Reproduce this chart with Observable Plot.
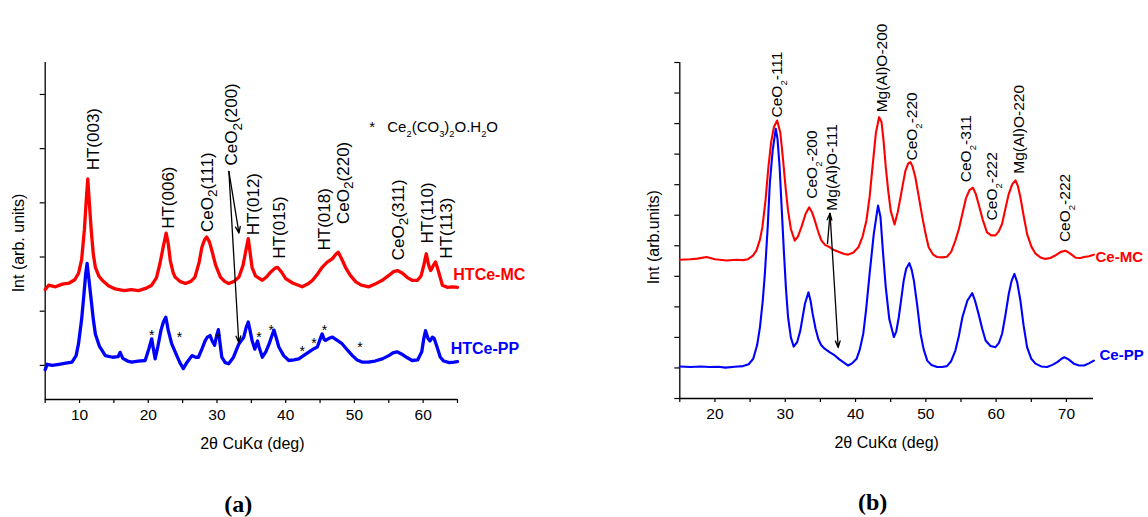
<!DOCTYPE html>
<html><head><meta charset="utf-8">
<script src="https://cdn.jsdelivr.net/npm/d3@7"></script>
<script src="https://cdn.jsdelivr.net/npm/@observablehq/plot@0.6"></script>
<style>
body{margin:0;background:#fff;}
#wrap{display:flex;width:1148px;height:517px;overflow:hidden;}
#wrap svg{overflow:visible;display:block;}
</style></head><body><div id="wrap"></div>
<script>
// ---------- Panel (a) data: [2θ (deg), intensity (arb., stacked)] ----------
const aHTCeMC = [[5.0,1.40],[5.5,1.48],[6.5,1.45],[7.5,1.50],[8.5,1.52],[9.3,1.58],[9.85,1.70],[10.3,1.95],[10.7,2.50],[11.0,3.10],[11.2,3.44],[11.4,3.05],[11.7,2.49],[12.0,2.05],[12.3,1.81],[12.8,1.65],[13.3,1.57],[14.2,1.47],[15.2,1.41],[16.5,1.38],[17.5,1.40],[18.6,1.38],[19.6,1.42],[20.5,1.48],[21.2,1.62],[21.7,1.88],[22.2,2.20],[22.6,2.44],[22.9,2.25],[23.2,1.94],[23.6,1.72],[23.9,1.63],[24.6,1.55],[25.4,1.51],[26.2,1.55],[26.8,1.63],[27.4,1.90],[27.8,2.18],[28.2,2.32],[28.5,2.37],[28.9,2.28],[29.25,2.12],[29.8,1.85],[30.5,1.63],[31.1,1.55],[31.7,1.51],[32.5,1.55],[33.2,1.63],[33.8,1.85],[34.2,2.12],[34.55,2.34],[34.8,2.10],[35.1,1.81],[35.6,1.65],[36.6,1.57],[37.2,1.63],[37.8,1.72],[38.4,1.79],[38.8,1.81],[39.4,1.72],[40.0,1.60],[41.0,1.52],[42.4,1.45],[43.2,1.50],[43.9,1.57],[44.6,1.68],[45.3,1.81],[46.0,1.90],[46.8,1.97],[47.3,2.05],[47.65,2.09],[48.2,1.95],[48.7,1.81],[49.4,1.66],[50.2,1.54],[51.0,1.48],[52.1,1.45],[53.0,1.50],[54.05,1.57],[55.0,1.66],[55.7,1.73],[56.25,1.75],[57.0,1.70],[57.7,1.62],[58.4,1.57],[59.15,1.57],[59.7,1.65],[60.1,1.85],[60.45,2.06],[60.8,1.85],[61.1,1.75],[61.5,1.85],[61.8,1.91],[62.2,1.75],[62.8,1.48],[63.5,1.44],[64.3,1.45],[65.0,1.44]];
const aHTCePP = [[5.0,-0.08],[5.3,0.02],[6.0,0.0],[7.0,0.02],[8.0,0.04],[8.9,0.06],[9.5,0.18],[9.85,0.40],[10.3,0.85],[10.6,1.26],[10.9,1.70],[11.1,1.88],[11.35,1.60],[11.7,1.20],[12.0,0.85],[12.3,0.58],[12.9,0.35],[13.75,0.18],[14.8,0.15],[15.6,0.16],[15.9,0.24],[16.3,0.13],[17.0,0.08],[17.6,0.06],[18.5,0.08],[19.55,0.09],[20.1,0.31],[20.5,0.49],[20.75,0.30],[21.0,0.12],[21.4,0.35],[21.85,0.65],[22.2,0.80],[22.55,0.89],[22.9,0.65],[23.4,0.40],[24.15,0.18],[24.6,0.05],[25.1,-0.06],[25.6,0.05],[26.35,0.18],[26.9,0.15],[27.3,0.15],[27.8,0.30],[28.3,0.46],[28.6,0.52],[29.0,0.55],[29.3,0.45],[29.65,0.37],[29.95,0.55],[30.2,0.66],[30.45,0.40],[30.7,0.15],[31.2,0.05],[31.7,0.03],[32.4,0.15],[33.2,0.40],[33.9,0.52],[34.25,0.70],[34.55,0.80],[34.8,0.65],[35.1,0.46],[35.5,0.30],[35.9,0.45],[36.1,0.35],[36.6,0.15],[37.1,0.25],[37.6,0.40],[38.0,0.55],[38.3,0.65],[38.6,0.52],[39.0,0.34],[39.7,0.18],[40.45,0.09],[41.2,0.10],[41.9,0.12],[42.6,0.18],[43.4,0.25],[44.0,0.30],[44.6,0.34],[45.0,0.48],[45.3,0.58],[45.6,0.48],[45.8,0.46],[46.3,0.50],[46.8,0.52],[47.5,0.46],[48.2,0.40],[49.0,0.28],[49.7,0.18],[50.4,0.10],[51.1,0.06],[52.0,0.06],[53.0,0.08],[54.05,0.12],[55.0,0.18],[55.6,0.23],[56.2,0.25],[57.0,0.20],[57.7,0.14],[58.4,0.09],[59.2,0.10],[59.8,0.25],[60.1,0.50],[60.35,0.64],[60.7,0.50],[61.0,0.45],[61.35,0.52],[61.6,0.50],[62.0,0.35],[62.5,0.15],[63.0,0.08],[63.8,0.05],[64.5,0.06],[65.0,0.07]];
const aPeakNames = ["HT(003)","HT(006)","CeO_2(111)","CeO_2(200)","HT(012)","HT(015)","HT(018)","CeO_2(220)","CeO_2(311)","HT(110)","HT(113)"];
const aPeakX = [11.99,23.0,28.58,32.12,35.28,39.15,45.7,48.38,56.38,60.6,63.41];
const aPeakY = [3.60,2.52,2.46,3.69,2.40,1.97,2.12,2.61,1.94,2.25,1.97];
const aStarX = [20.5,24.55,30.2,36.1,37.9,42.4,44.1,45.65,50.8];
const aStarY = [0.63,0.58,0.56,0.58,0.71,0.33,0.48,0.72,0.40];
const aArrows = [{x1:31.73,y1:3.58,x2:33.2,y2:2.44},{x1:31.73,y1:3.58,x2:33.17,y2:0.42}];
const aSeriesNames = ["HTCe-MC","HTCe-PP"];
const aSeriesLabelX = [64.39,64.0];
const aSeriesLabelY = [1.67,0.30];
const aXTicks = [5,10,15,20,25,30,35,40,45,50,55,60,65];
const aYTicks = [0,1,2,3,4,5];

// ---------- Panel (b) data ----------
const bCeMC = [[15.0,4.54],[16.5,4.56],[17.5,4.58],[18.8,4.63],[20.0,4.56],[21.65,4.52],[23.0,4.54],[24.0,4.53],[24.7,4.56],[25.4,4.68],[25.9,4.84],[26.4,5.2],[26.75,5.61],[27.2,6.5],[27.6,7.57],[28.0,8.4],[28.4,8.9],[28.85,9.10],[29.3,8.7],[29.7,7.79],[30.05,6.9],[30.4,6.15],[30.8,5.55],[31.35,5.17],[31.8,5.30],[32.3,5.61],[32.9,6.05],[33.4,6.26],[33.8,6.10],[34.2,5.83],[34.7,5.45],[35.15,5.17],[35.7,5.02],[36.35,4.95],[37.0,4.85],[37.75,4.79],[38.4,4.73],[38.95,4.71],[39.7,4.78],[40.4,4.95],[41.0,5.30],[41.55,5.83],[42.0,6.6],[42.5,7.79],[42.9,8.7],[43.35,9.21],[43.7,9.05],[44.0,8.4],[44.3,7.57],[44.65,6.8],[45.0,6.15],[45.55,5.70],[46.0,6.1],[46.4,6.59],[46.8,7.1],[47.1,7.46],[47.5,7.70],[47.8,7.74],[48.1,7.60],[48.5,7.25],[49.0,6.6],[49.5,5.94],[50.0,5.35],[50.4,4.95],[51.0,4.72],[51.6,4.63],[52.3,4.62],[53.0,4.64],[53.6,4.80],[54.2,5.17],[54.7,5.55],[55.2,6.05],[55.7,6.55],[56.2,6.82],[56.7,6.90],[57.1,6.70],[57.5,6.37],[58.1,5.85],[58.7,5.44],[59.3,5.34],[59.9,5.34],[60.4,5.48],[60.85,5.72],[61.3,6.2],[61.8,6.70],[62.3,7.02],[62.75,7.14],[63.1,6.95],[63.45,6.59],[63.9,6.0],[64.4,5.39],[65.0,4.98],[65.6,4.74],[66.3,4.62],[67.0,4.57],[67.7,4.60],[68.4,4.68],[69.2,4.80],[69.85,4.84],[70.5,4.75],[71.3,4.61],[72.0,4.60],[72.5,4.63],[73.2,4.66],[73.9,4.71]];
const bCePP = [[15.0,1.05],[16.5,1.03],[18.0,1.05],[19.25,1.03],[20.5,1.04],[21.5,1.01],[22.8,1.04],[24.0,1.06],[24.8,1.12],[25.45,1.30],[26.0,1.75],[26.4,2.33],[26.8,3.2],[27.1,4.08],[27.5,5.6],[27.8,7.03],[28.2,8.1],[28.65,8.83],[28.9,8.5],[29.2,7.57],[29.5,6.2],[29.8,4.84],[30.1,3.6],[30.4,2.66],[30.8,2.0],[31.2,1.70],[31.7,1.85],[32.15,2.23],[32.5,2.70],[32.8,3.10],[33.3,3.48],[33.6,3.20],[33.9,2.77],[34.3,2.30],[34.7,1.95],[35.1,1.75],[35.6,1.63],[36.3,1.52],[37.05,1.41],[37.7,1.28],[38.25,1.19],[38.95,1.08],[39.5,1.15],[40.15,1.30],[40.6,1.60],[41.1,2.12],[41.5,2.9],[42.0,4.08],[42.6,5.4],[43.2,6.32],[43.55,5.94],[43.9,4.8],[44.3,3.64],[44.8,2.6],[45.45,2.01],[45.8,2.20],[46.15,2.66],[46.5,3.25],[46.85,3.86],[47.2,4.25],[47.65,4.43],[48.0,4.20],[48.3,3.86],[48.8,3.0],[49.25,2.12],[49.7,1.60],[50.2,1.24],[50.8,1.10],[51.6,1.03],[52.3,1.03],[53.0,1.06],[53.6,1.22],[54.2,1.57],[54.7,2.05],[55.2,2.66],[55.9,3.20],[56.6,3.45],[57.0,3.20],[57.5,2.77],[58.0,2.30],[58.5,1.90],[59.2,1.72],[59.9,1.68],[60.4,1.82],[60.85,2.12],[61.3,2.70],[61.8,3.43],[62.2,3.85],[62.6,4.08],[63.0,3.80],[63.45,3.21],[63.9,2.40],[64.4,1.68],[65.0,1.30],[65.6,1.14],[66.4,1.05],[67.25,1.03],[68.0,1.10],[68.7,1.19],[69.3,1.30],[69.7,1.35],[70.3,1.28],[71.05,1.14],[71.8,1.08],[72.5,1.08],[73.2,1.15],[73.9,1.24]];
const bPeakNames = ["CeO_2-111","CeO_2-200","Mg(Al)O-111","Mg(Al)O-200","CeO_2-220","CeO_2-311","CeO_2-222","Mg(Al)O-220","CeO_2-222"];
const bPeakX = [28.85,33.83,36.68,43.79,48.06,55.78,59.44,63.22,69.86];
const bPeakY = [9.2,6.54,6.15,9.37,7.79,7.08,5.83,7.36,5.12];
const bArrows = [{x1:36.01,y1:5.07,x2:36.37,y2:6.06},{x1:36.37,y1:6.06,x2:37.53,y2:1.67}];
const bSeriesNames = ["Ce-MC","Ce-PP"];
const bSeriesLabelX = [74.13,74.7];
const bSeriesLabelY = [4.63,1.41];
const bXTicks = [15,20,25,30,35,40,45,50,55,60,65,70];
const bYTicks = [0,1,2,3,4,5,6,7,8,9,10,11];

const RED = "#ff0000", BLUE = "#0000ff";
const FONT = "'Liberation Sans', Arial, Helvetica, sans-serif";
const SERIF = "'Liberation Serif', 'DejaVu Serif', serif";
const idx = a => a.map((_, i) => i);

function subscriptify(svg) {
  for (const t of svg.querySelectorAll("text")) {
    const s = t.textContent;
    if (!s.includes("_")) continue;
    const fs = parseFloat(getComputedStyle(t).fontSize) || 14;
    const big = fs >= 16.5;
    const ratio = big ? 0.8 : 0.62;
    const shift = fs * (big ? 0.28 : 0.3);
    while (t.firstChild) t.removeChild(t.firstChild);
    const re = /_(.)/g;
    let last = 0, up = false, m;
    const add = (str, sub) => {
      const ts = document.createElementNS("http://www.w3.org/2000/svg", "tspan");
      ts.textContent = str;
      if (sub) { ts.setAttribute("font-size", (fs * ratio) + "px"); ts.setAttribute("dy", shift); }
      else if (up) ts.setAttribute("dy", -shift);
      t.appendChild(ts);
      up = !!sub;
    };
    while ((m = re.exec(s))) {
      if (m.index > last) add(s.slice(last, m.index), false);
      add(m[1], true);
      last = m.index + 2;
    }
    if (last < s.length) add(s.slice(last), false);
  }
}

const common = {
  width: 574, height: 517,
  style: {fontFamily: FONT, fontSize: "15px", color: "black", background: "white", overflow: "visible"}
};

const yA0 = -0.63;
const plotA = Plot.plot({
  ...common,
  marginLeft: 44.7, marginRight: 117, marginTop: 62, marginBottom: 118,
  x: {domain: [5, 65]},
  y: {domain: [yA0, 5.59]},
  marks: [
    Plot.axisX({ticks: aXTicks, tickSize: 4, tickPadding: 5, tickFormat: d => d % 10 === 0 ? String(d) : "", label: null, fontSize: 15.5, strokeWidth: 1.2}),
    Plot.axisY({ticks: aYTicks, tickSize: 5, tickFormat: () => "", label: null, strokeWidth: 1.2}),
    Plot.ruleX([5], {stroke: "black", strokeWidth: 1.3}),
    Plot.ruleY([yA0], {stroke: "black", strokeWidth: 1.3}),
    Plot.line(aHTCeMC, {x: d => d[0], y: d => d[1], stroke: RED, strokeWidth: 3.3}),
    Plot.line(aHTCePP, {x: d => d[0], y: d => d[1], stroke: BLUE, strokeWidth: 3.3}),
    Plot.text(idx(aPeakNames), {x: i => aPeakX[i], y: i => aPeakY[i], text: i => aPeakNames[i], rotate: -90, textAnchor: "start", lineAnchor: "middle", fontSize: 17, fill: "black"}),
    Plot.text(idx(aStarX), {x: i => aStarX[i], y: i => aStarY[i], text: () => "*", textAnchor: "middle", lineAnchor: "middle", fontSize: 14, dy: 3.8, fill: "black"}),
    Plot.text(["*"], {x: 52.6, y: 4.39, text: d => d, textAnchor: "middle", lineAnchor: "middle", fontSize: 15}),
    Plot.text(["Ce_2(CO_3)_2O.H_2O"], {x: 54.78, y: 4.39, text: d => d, textAnchor: "start", lineAnchor: "middle", fontSize: 15}),
    Plot.arrow(aArrows, {x1: "x1", y1: "y1", x2: "x2", y2: "y2", stroke: "black", strokeWidth: 1.3, headLength: 8, headAngle: 40}),
    Plot.text(idx(aSeriesNames), {x: i => aSeriesLabelX[i], y: i => aSeriesLabelY[i], text: i => aSeriesNames[i], fill: i => [RED, BLUE][i], textAnchor: "start", lineAnchor: "middle", fontSize: 16, fontWeight: "bold"}),
    Plot.text(["2θ CuKα (deg)"], {text: d => d, frameAnchor: "bottom", textAnchor: "middle", lineAnchor: "middle", dy: 44, dx: 1, fontSize: 16}),
    Plot.text(["Int (arb. units)"], {text: d => d, frameAnchor: "left", rotate: -90, textAnchor: "middle", lineAnchor: "middle", dx: -26.4, dy: 12, fontSize: 16}),
    Plot.text(["(a)"], {text: d => d, frameAnchor: "bottom", textAnchor: "middle", lineAnchor: "middle", dy: 105, dx: -13, fontSize: 24, fontWeight: "bold", fontFamily: SERIF})
  ]
});

const plotB = Plot.plot({
  ...common,
  marginLeft: 105.3, marginRight: 55, marginTop: 62, marginBottom: 119,
  x: {domain: [15, 73.85]},
  y: {domain: [0, 11]},
  marks: [
    Plot.axisX({ticks: bXTicks, tickSize: 4, tickPadding: 5, tickFormat: d => d % 10 === 0 ? String(d) : "", label: null, fontSize: 15.5, strokeWidth: 1.2}),
    Plot.axisY({ticks: bYTicks, tickSize: 5, tickFormat: () => "", label: null, strokeWidth: 1.2}),
    Plot.ruleX([15], {stroke: "black", strokeWidth: 1.3}),
    Plot.ruleY([0], {stroke: "black", strokeWidth: 1.3}),
    Plot.line(bCeMC, {x: d => d[0], y: d => d[1], stroke: RED, strokeWidth: 2.1}),
    Plot.line(bCePP, {x: d => d[0], y: d => d[1], stroke: BLUE, strokeWidth: 2.1}),
    Plot.text(idx(bPeakNames), {x: i => bPeakX[i], y: i => bPeakY[i], text: i => bPeakNames[i], rotate: -90, textAnchor: "start", lineAnchor: "middle", fontSize: 15.5, fill: "black"}),
    Plot.arrow(bArrows, {x1: "x1", y1: "y1", x2: "x2", y2: "y2", stroke: "black", strokeWidth: 1.3, headLength: 8, headAngle: 40}),
    Plot.text(idx(bSeriesNames), {x: i => bSeriesLabelX[i], y: i => bSeriesLabelY[i], text: i => bSeriesNames[i], fill: i => [RED, BLUE][i], textAnchor: "start", lineAnchor: "middle", fontSize: 15, fontWeight: "bold"}),
    Plot.text(["2θ CuKα (deg)"], {text: d => d, frameAnchor: "bottom", textAnchor: "middle", lineAnchor: "middle", dy: 44, dx: 0, fontSize: 16}),
    Plot.text(["Int (arb.units)"], {text: d => d, frameAnchor: "left", rotate: -90, textAnchor: "middle", lineAnchor: "middle", dx: -26, dy: 6.7, fontSize: 16}),
    Plot.text(["(b)"], {text: d => d, frameAnchor: "bottom", textAnchor: "middle", lineAnchor: "middle", dy: 104, dx: -14, fontSize: 24, fontWeight: "bold", fontFamily: SERIF})
  ]
});

const wrap = document.getElementById("wrap");
wrap.append(plotA, plotB);
subscriptify(plotA);
subscriptify(plotB);
</script></body></html>
